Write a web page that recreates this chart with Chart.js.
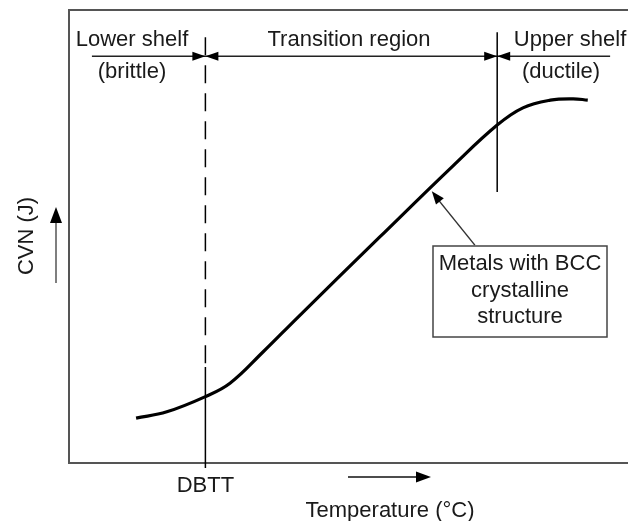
<!DOCTYPE html>
<html>
<head>
<meta charset="utf-8">
<script src="https://cdn.jsdelivr.net/npm/chart.js@4/dist/chart.umd.min.js"></script>
<style>
  body { margin: 0; background: #fff; }
  canvas { display: block; }
</style>
</head>
<body>
<canvas id="chart" width="628" height="521"></canvas>
<script>
// curve (arbitrary units, 0-100 on both axes)
const temperature = [12.0, 17.5, 24.3, 28.8, 34.7, 40.8, 55.6, 68.7, 76.6, 81.2, 86.1, 90.2, 92.8];
const cvn = [9.9, 11.3, 14.6, 17.6, 24.5, 32.0, 49.9, 65.6, 74.6, 78.4, 80.1, 80.4, 80.1];

// region boundaries
const dbtt = 24.4;
const upperShelfStart = 76.6;
const regionArrowY = 89.8;
const regionArrowFrom = 4.1;
const regionArrowTo = 96.8;

const regionLabels = ["Lower shelf", "Transition region", "Upper shelf"];
const regionSubLabels = ["(brittle)", "(ductile)"];
const noteLines = ["Metals with BCC", "crystalline", "structure"];

const FONT = "22px 'Liberation Sans', Arial, sans-serif";

function arrowHead(ctx, x, y, angle, len, half) {
  ctx.save();
  ctx.translate(x, y);
  ctx.rotate(angle);
  ctx.beginPath();
  ctx.moveTo(0, 0);
  ctx.lineTo(-len, -half);
  ctx.lineTo(-len, half);
  ctx.closePath();
  ctx.fillStyle = "#000";
  ctx.fill();
  ctx.restore();
}

const annotations = {
  id: "annotations",
  afterDraw(chart) {
    const ctx = chart.ctx;
    const xs = chart.scales.x;
    const ys = chart.scales.y;
    const px = v => xs.getPixelForValue(v);
    const py = v => ys.getPixelForValue(v);

    // arrowheads on the region line
    const ay = py(regionArrowY);
    arrowHead(ctx, px(dbtt), ay, 0, 13, 4.5);
    arrowHead(ctx, px(dbtt), ay, Math.PI, 13, 4.5);
    arrowHead(ctx, px(upperShelfStart), ay, 0, 13, 4.5);
    arrowHead(ctx, px(upperShelfStart), ay, Math.PI, 13, 4.5);

    ctx.save();
    ctx.font = FONT;
    ctx.fillStyle = "#1a1a1a";
    ctx.textAlign = "center";
    ctx.textBaseline = "alphabetic";
    ctx.fillText(regionLabels[0], 132, 46);
    ctx.fillText(regionLabels[1], 349, 46);
    ctx.fillText(regionLabels[2], 570, 46);
    ctx.fillText(regionSubLabels[0], 132, 78);
    ctx.fillText(regionSubLabels[1], 561, 78);

    // note box and leader arrow
    const tipX = px(64.9), tipY = py(60.0);
    const baseX = px(72.6), baseY = py(48.1);
    arrowHead(ctx, tipX, tipY, Math.atan2(tipY - baseY, tipX - baseX), 13, 5);
    ctx.fillStyle = "#fff";
    ctx.fillRect(433, 246, 174, 91);
    ctx.strokeStyle = "#444";
    ctx.lineWidth = 1.5;
    ctx.strokeRect(433, 246, 174, 91);
    ctx.fillStyle = "#1a1a1a";
    ctx.fillText(noteLines[0], 520, 270);
    ctx.fillText(noteLines[1], 520, 297);
    ctx.fillText(noteLines[2], 520, 323);

    // bottom labels and arrow
    ctx.fillText("DBTT", px(dbtt), 492);
    ctx.fillText("Temperature (°C)", 390, 517);
    ctx.strokeStyle = "#111";
    ctx.lineWidth = 1.5;
    ctx.beginPath();
    ctx.moveTo(348, 477);
    ctx.lineTo(418, 477);
    ctx.stroke();
    arrowHead(ctx, 431, 477, 0, 15, 5.5);

    // y axis label and arrow
    ctx.save();
    ctx.translate(25, 236);
    ctx.rotate(-Math.PI / 2);
    ctx.fillText("CVN (J)", 0, 8);
    ctx.restore();
    ctx.strokeStyle = "#555";
    ctx.beginPath();
    ctx.moveTo(56, 283);
    ctx.lineTo(56, 220);
    ctx.stroke();
    arrowHead(ctx, 56, 207, -Math.PI / 2, 16, 6);
    ctx.restore();
  }
};

const lineStyle = { borderColor: "#000", pointRadius: 0, fill: false, clip: false };

new Chart(document.getElementById("chart"), {
  type: "line",
  data: {
    datasets: [
      {
        ...lineStyle,
        data: temperature.map((t, i) => ({ x: t, y: cvn[i] })),
        borderWidth: 3.2,
        tension: 0.4,
      },
      {
        ...lineStyle,
        data: [{ x: dbtt, y: 94.0 }, { x: dbtt, y: 21.2 }],
        borderWidth: 1.5,
        borderDash: [18, 10],
      },
      {
        ...lineStyle,
        data: [{ x: dbtt, y: 21.2 }, { x: dbtt, y: -1.1 }],
        borderWidth: 1.5,
      },
      {
        ...lineStyle,
        data: [{ x: upperShelfStart, y: 95.1 }, { x: upperShelfStart, y: 59.8 }],
        borderWidth: 1.5,
      },
      {
        ...lineStyle,
        data: [{ x: regionArrowFrom, y: regionArrowY }, { x: regionArrowTo, y: regionArrowY }],
        borderWidth: 1.5,
        borderColor: "#222",
      },
      {
        ...lineStyle,
        data: [{ x: 72.6, y: 48.1 }, { x: 66.0, y: 58.2 }],
        borderWidth: 1.5,
        borderColor: "#333",
      },
    ],
  },
  options: {
    responsive: false,
    animation: false,
    layout: { padding: { left: 61, top: 2, right: 0, bottom: 50 } },
    plugins: { legend: { display: false }, tooltip: { enabled: false } },
    scales: {
      x: {
        type: "linear",
        min: 0,
        max: 100,
        position: "bottom",
        ticks: { display: false },
        grid: { display: false },
        border: { color: "#555", width: 2 },
      },
      x2: {
        type: "linear",
        min: 0,
        max: 100,
        position: "top",
        ticks: { display: false },
        grid: { display: false },
        border: { color: "#555", width: 2 },
      },
      y: {
        type: "linear",
        min: 0,
        max: 100,
        position: "left",
        ticks: { display: false },
        grid: { display: false },
        border: { color: "#555", width: 2 },
      },
    },
  },
  plugins: [annotations],
});
</script>
</body>
</html>
